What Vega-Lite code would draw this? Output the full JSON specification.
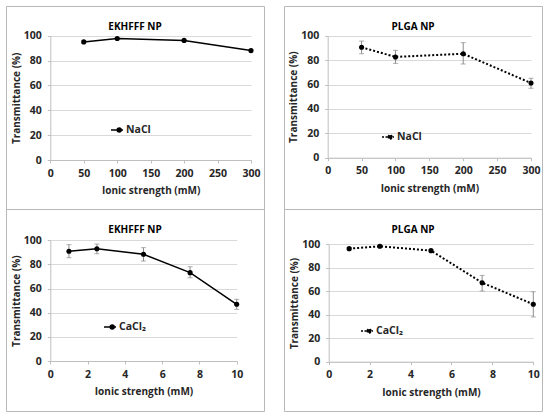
{
  "$schema": "https://vega.github.io/schema/vega-lite/v6.json",
  "description": "Transmittance vs ionic strength for EKHFFF and PLGA nanoparticles, NaCl and CaCl2.",
  "padding": {"left": 5, "top": 5, "right": 0, "bottom": 0},
  "config": {
    "view": {"stroke": "#b8b8b8", "strokeWidth": 1},
    "font": "Open Sans",
    "title": {"font": "Open Sans", "fontSize": 10, "fontWeight": "bold", "color": "#000000", "frame": "group", "offset": -26},
    "axis": {
      "labelFont": "Open Sans",
      "labelFontSize": 10.5,
      "labelFontWeight": "bold",
      "labelColor": "#262626",
      "labelFlush": false,
      "titleFont": "Open Sans",
      "titleFontSize": 10,
      "titleFontWeight": "bold",
      "titleColor": "#262626",
      "domainColor": "#bfbfbf",
      "tickColor": "#bfbfbf",
      "tickSize": 3,
      "gridColor": "#d9d9d9"
    },
    "legend": {
      "labelFont": "Open Sans",
      "labelFontSize": 10.5,
      "labelFontWeight": "bold",
      "labelColor": "#262626",
      "padding": 0,
      "labelOffset": 2,
      "symbolSize": 144,
      "symbolStrokeColor": "#000000",
      "symbolFillColor": "#000000",
      "symbolStrokeWidth": 1.6,
      "symbolType": "M-1,0L1,0M0.05,0A0.32,0.32,0,1,1,0.69,0A0.32,0.32,0,1,1,0.05,0Z"
    }
  },
  "data": {
    "values": [
      {"panel": "A", "salt": "NaCl", "strength": 50, "trans": 95, "lo": 94, "hi": 96},
      {"panel": "A", "salt": "NaCl", "strength": 100, "trans": 97.8, "lo": 97, "hi": 98.6},
      {"panel": "A", "salt": "NaCl", "strength": 200, "trans": 96.2, "lo": 95.4, "hi": 97},
      {"panel": "A", "salt": "NaCl", "strength": 300, "trans": 88, "lo": 87, "hi": 89},
      {"panel": "B", "salt": "NaCl", "strength": 50, "trans": 90.5, "lo": 85.2, "hi": 95.6},
      {"panel": "B", "salt": "NaCl", "strength": 100, "trans": 82.6, "lo": 77.3, "hi": 88},
      {"panel": "B", "salt": "NaCl", "strength": 200, "trans": 85.2, "lo": 76.8, "hi": 94.3},
      {"panel": "B", "salt": "NaCl", "strength": 300, "trans": 61.2, "lo": 56.9, "hi": 65.1},
      {"panel": "C", "salt": "CaCl₂", "strength": 1, "trans": 90.9, "lo": 85.6, "hi": 96.4},
      {"panel": "C", "salt": "CaCl₂", "strength": 2.5, "trans": 93, "lo": 88.9, "hi": 96.9},
      {"panel": "C", "salt": "CaCl₂", "strength": 5, "trans": 88.4, "lo": 82.8, "hi": 93.9},
      {"panel": "C", "salt": "CaCl₂", "strength": 7.5, "trans": 73.2, "lo": 69, "hi": 78.1},
      {"panel": "C", "salt": "CaCl₂", "strength": 10, "trans": 47, "lo": 42.8, "hi": 51.1},
      {"panel": "D", "salt": "CaCl₂", "strength": 1, "trans": 96.3, "lo": 95.3, "hi": 97.3},
      {"panel": "D", "salt": "CaCl₂", "strength": 2.5, "trans": 98.3, "lo": 97.3, "hi": 99.3},
      {"panel": "D", "salt": "CaCl₂", "strength": 5, "trans": 94.6, "lo": 93.6, "hi": 95.6},
      {"panel": "D", "salt": "CaCl₂", "strength": 7.5, "trans": 67.3, "lo": 60.2, "hi": 73.5},
      {"panel": "D", "salt": "CaCl₂", "strength": 10, "trans": 48.9, "lo": 38.1, "hi": 59.6}
    ]
  },
  "resolve": {
    "scale": {"x": "independent", "y": "independent", "color": "independent"},
    "axis": {"x": "independent", "y": "independent"},
    "legend": {"color": "independent"}
  },
  "bounds": "flush",
  "columns": 2,
  "spacing": {"row": 0, "column": 20},
  "concat": [
    {
      "width": 258,
      "height": 203,
      "title": "EKHFFF NP",
      "transform": [{"filter": "datum.panel == 'A'"}],
      "layer": [
        {
          "mark": {"type": "errorbar", "ticks": true, "color": "#8c8c8c"},
          "encoding": {
            "x": {"field": "strength", "type": "quantitative", "title": "Ionic strength (mM)"},
            "y": {"field": "lo", "type": "quantitative", "title": "Transmittance (%)"},
            "y2": {"field": "hi"}
          }
        },
        {
          "mark": {"type": "line", "strokeWidth": 1.5, "point": {"filled": true, "size": 26}},
          "encoding": {
            "x": {
              "field": "strength", "type": "quantitative", "title": "Ionic strength (mM)",
              "scale": {"domain": [0, 300], "range": [44.3, 245], "nice": false},
              "axis": {"values": [0, 50, 100, 150, 200, 250, 300], "offset": -49, "labelPadding": 5, "titlePadding": 7, "grid": false}
            },
            "y": {
              "field": "trans", "type": "quantitative", "title": "Transmittance (%)",
              "scale": {"domain": [0, 100], "range": [154, 29.7], "nice": false},
              "axis": {"values": [0, 20, 40, 60, 80, 100], "offset": -44.3, "labelPadding": 6, "titlePadding": 2}
            },
            "color": {
              "field": "salt", "type": "nominal",
              "scale": {"range": ["#000000"]},
              "legend": {"orient": "none", "legendX": 104, "legendY": 117, "title": null}
            }
          }
        }
      ]
    },
    {
      "width": 258,
      "height": 203,
      "title": "PLGA NP",
      "transform": [{"filter": "datum.panel == 'B'"}],
      "layer": [
        {
          "mark": {"type": "errorbar", "ticks": true, "color": "#8c8c8c"},
          "encoding": {
            "x": {"field": "strength", "type": "quantitative", "title": "Ionic strength (mM)"},
            "y": {"field": "lo", "type": "quantitative", "title": "Transmittance (%)"},
            "y2": {"field": "hi"}
          }
        },
        {
          "mark": {"type": "line", "strokeWidth": 2, "strokeDash": [2, 2], "point": {"filled": true, "size": 26}},
          "encoding": {
            "x": {
              "field": "strength", "type": "quantitative", "title": "Ionic strength (mM)",
              "scale": {"domain": [0, 300], "range": [43.7, 247], "nice": false},
              "axis": {"values": [0, 50, 100, 150, 200, 250, 300], "offset": -51.3, "labelPadding": 5, "titlePadding": 7, "grid": false}
            },
            "y": {
              "field": "trans", "type": "quantitative", "title": "Transmittance (%)",
              "scale": {"domain": [0, 100], "range": [151.7, 29.7], "nice": false},
              "axis": {"values": [0, 20, 40, 60, 80, 100], "offset": -43.7, "labelPadding": 6, "titlePadding": 2}
            },
            "color": {
              "field": "salt", "type": "nominal",
              "scale": {"range": ["#000000"]},
              "legend": {"orient": "none", "legendX": 97, "legendY": 124, "title": null, "symbolDash": [2, 1.5]}
            }
          }
        }
      ]
    },
    {
      "width": 258,
      "height": 202,
      "title": "EKHFFF NP",
      "transform": [{"filter": "datum.panel == 'C'"}],
      "layer": [
        {
          "mark": {"type": "errorbar", "ticks": true, "color": "#8c8c8c"},
          "encoding": {
            "x": {"field": "strength", "type": "quantitative", "title": "Ionic strength (mM)"},
            "y": {"field": "lo", "type": "quantitative", "title": "Transmittance (%)"},
            "y2": {"field": "hi"}
          }
        },
        {
          "mark": {"type": "line", "strokeWidth": 1.5, "point": {"filled": true, "size": 26}},
          "encoding": {
            "x": {
              "field": "strength", "type": "quantitative", "title": "Ionic strength (mM)",
              "scale": {"domain": [0, 10], "range": [44.3, 230.7], "nice": false},
              "axis": {"values": [0, 2, 4, 6, 8, 10], "offset": -50, "labelPadding": 5, "titlePadding": 7, "grid": false}
            },
            "y": {
              "field": "trans", "type": "quantitative", "title": "Transmittance (%)",
              "scale": {"domain": [0, 100], "range": [152, 31.3], "nice": false},
              "axis": {"values": [0, 20, 40, 60, 80, 100], "offset": -44.3, "labelPadding": 6, "titlePadding": 2}
            },
            "color": {
              "field": "salt", "type": "nominal",
              "scale": {"range": ["#000000"]},
              "legend": {"orient": "none", "legendX": 97, "legendY": 111, "title": null}
            }
          }
        }
      ]
    },
    {
      "width": 258,
      "height": 202,
      "title": "PLGA NP",
      "transform": [{"filter": "datum.panel == 'D'"}],
      "layer": [
        {
          "mark": {"type": "errorbar", "ticks": true, "color": "#8c8c8c"},
          "encoding": {
            "x": {"field": "strength", "type": "quantitative", "title": "Ionic strength (mM)"},
            "y": {"field": "lo", "type": "quantitative", "title": "Transmittance (%)"},
            "y2": {"field": "hi"}
          }
        },
        {
          "mark": {"type": "line", "strokeWidth": 2, "strokeDash": [2, 2], "point": {"filled": true, "size": 26}},
          "encoding": {
            "x": {
              "field": "strength", "type": "quantitative", "title": "Ionic strength (mM)",
              "scale": {"domain": [0, 10], "range": [44.7, 249.3], "nice": false},
              "axis": {"values": [0, 2, 4, 6, 8, 10], "offset": -49.3, "labelPadding": 5, "titlePadding": 7, "grid": false}
            },
            "y": {
              "field": "trans", "type": "quantitative", "title": "Transmittance (%)",
              "scale": {"domain": [0, 100], "range": [152.7, 35.3], "nice": false},
              "axis": {"values": [0, 20, 40, 60, 80, 100], "offset": -44.7, "labelPadding": 6, "titlePadding": 2}
            },
            "color": {
              "field": "salt", "type": "nominal",
              "scale": {"range": ["#000000"]},
              "legend": {"orient": "none", "legendX": 76, "legendY": 115, "title": null, "symbolDash": [2, 1.5]}
            }
          }
        }
      ]
    }
  ]
}
